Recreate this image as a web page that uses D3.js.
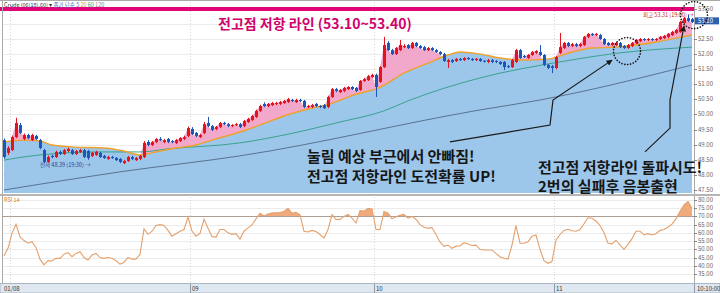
<!DOCTYPE html>
<html>
<head>
<meta charset="utf-8">
<script src="https://cdn.jsdelivr.net/npm/d3@7"></script>
<style>
  body { margin: 0; background: #fff; }
  svg { display: block; font-family: 'Noto Sans CJK KR', 'Noto Sans', sans-serif; }
</style>
</head>
<body>
<svg id="chart" width="720" height="293"></svg>
<script>
// 30-min candles
const open = [
  49.15, 48.73, 48.82, 49.25, 49.65, 49.19, 49.32, 49.15, 49.29, 49.15,
  48.82, 48.43, 48.63, 48.59, 48.76, 48.69, 48.79, 48.82, 48.69, 48.76,
  48.82, 48.79, 48.63, 48.66, 48.73, 48.63, 48.53, 48.59, 48.56, 48.53,
  48.39, 48.46, 48.59, 48.49, 48.53, 48.59, 49.09, 48.99, 49.09, 49.19,
  49.09, 49.19, 49.12, 49.06, 49.12, 49.19, 49.29, 49.52, 49.39, 49.25,
  49.39, 49.72, 49.62, 49.52, 49.59, 49.72, 49.68, 49.62, 49.65, 49.68,
  49.62, 49.75, 49.82, 49.92, 50.12, 50.35, 50.28, 50.31, 50.35, 50.35,
  50.38, 50.41, 50.48, 50.41, 50.48, 50.45, 50.25, 50.25, 50.35, 50.28,
  50.31, 50.25, 50.58, 50.84, 50.74, 50.78, 50.84, 50.91, 50.88, 50.81,
  51.11, 51.14, 51.24, 51.31, 51.08, 51.57, 52.37, 52.13, 52.00, 52.13,
  52.23, 52.30, 52.20, 52.37, 52.27, 52.23, 52.13, 52.20, 52.13, 52.07,
  52.00, 51.74, 51.80, 51.77, 51.84, 51.80, 51.87, 51.84, 51.80, 51.84,
  51.78, 51.74, 51.80, 51.77, 51.74, 51.74, 51.60, 51.57, 51.74, 52.13,
  51.94, 51.87, 51.97, 52.04, 52.07, 51.97, 51.64, 51.60, 51.54, 52.04,
  52.20, 52.37, 52.27, 52.33, 52.27, 52.30, 52.57, 52.67, 52.63, 52.63,
  52.50, 52.37, 52.30, 52.30, 52.37, 52.27, 52.20, 52.27, 52.37, 52.43,
  52.50, 52.47, 52.50, 52.47, 52.50, 52.53, 52.57, 52.63, 52.70, 52.73,
  53.03, 53.19, 53.16
];
const close = [
  48.59, 48.89, 49.25, 49.72, 49.39, 49.32, 49.22, 49.32, 49.19, 48.89,
  48.43, 48.59, 48.59, 48.76, 48.69, 48.82, 48.86, 48.69, 48.79, 48.82,
  48.59, 48.56, 48.73, 48.76, 48.59, 48.56, 48.59, 48.56, 48.49, 48.43,
  48.46, 48.59, 48.53, 48.56, 48.63, 49.06, 48.99, 49.09, 49.19, 49.15,
  49.15, 49.09, 49.09, 49.15, 49.22, 49.25, 49.55, 49.35, 49.29, 49.32,
  49.68, 49.62, 49.49, 49.59, 49.72, 49.68, 49.62, 49.65, 49.68, 49.59,
  49.78, 49.85, 49.95, 50.12, 50.28, 50.28, 50.35, 50.38, 50.38, 50.41,
  50.45, 50.51, 50.45, 50.48, 50.45, 50.25, 50.28, 50.31, 50.28, 50.25,
  50.21, 50.58, 50.84, 50.78, 50.81, 50.88, 50.91, 50.84, 50.78, 51.11,
  51.17, 51.27, 51.31, 50.91, 51.57, 52.30, 52.13, 52.00, 52.20, 52.30,
  52.27, 52.20, 52.37, 52.27, 52.20, 52.13, 52.20, 52.13, 52.07, 52.00,
  51.77, 51.80, 51.74, 51.84, 51.80, 51.87, 51.84, 51.80, 51.84, 51.77,
  51.75, 51.80, 51.74, 51.74, 51.67, 51.57, 51.57, 51.80, 52.13, 51.87,
  51.90, 51.97, 52.07, 52.10, 51.97, 51.64, 51.54, 51.54, 51.90, 52.23,
  52.37, 52.27, 52.33, 52.27, 52.33, 52.57, 52.67, 52.63, 52.67, 52.50,
  52.33, 52.30, 52.37, 52.37, 52.23, 52.20, 52.30, 52.37, 52.47, 52.50,
  52.47, 52.50, 52.47, 52.50, 52.57, 52.60, 52.67, 52.73, 52.80, 53.06,
  53.19, 53.10, 53.06
];
const high = [
  49.20, 48.95, 49.30, 49.89, 49.72, 49.37, 49.36, 49.36, 49.33, 49.19,
  48.86, 48.64, 48.67, 48.80, 48.80, 48.86, 48.90, 48.86, 48.83, 48.86,
  48.86, 48.83, 48.76, 48.80, 48.76, 48.66, 48.63, 48.63, 48.59, 48.56,
  48.50, 48.63, 48.63, 48.59, 48.66, 49.12, 49.15, 49.12, 49.22, 49.25,
  49.19, 49.22, 49.15, 49.19, 49.25, 49.30, 49.60, 49.58, 49.42, 49.36,
  49.75, 49.92, 49.65, 49.62, 49.75, 49.76, 49.72, 49.68, 49.72, 49.72,
  49.82, 49.89, 49.98, 50.16, 50.32, 50.40, 50.38, 50.42, 50.42, 50.45,
  50.48, 50.55, 50.52, 50.52, 50.52, 50.48, 50.32, 50.35, 50.38, 50.31,
  50.35, 50.62, 50.88, 50.88, 50.84, 50.91, 50.94, 50.94, 50.91, 51.14,
  51.21, 51.31, 51.35, 51.35, 51.60, 52.57, 52.43, 52.17, 52.23, 52.47,
  52.33, 52.33, 52.40, 52.40, 52.30, 52.27, 52.23, 52.23, 52.17, 52.10,
  52.04, 51.84, 51.84, 51.87, 51.87, 51.90, 51.90, 51.87, 51.87, 51.87,
  51.80, 51.84, 51.84, 51.80, 51.77, 51.77, 51.64, 51.84, 52.17, 52.17,
  51.97, 52.00, 52.10, 52.13, 52.30, 52.00, 51.67, 51.64, 51.94, 52.70,
  52.40, 52.40, 52.37, 52.37, 52.37, 52.60, 52.70, 52.70, 52.70, 52.67,
  52.53, 52.40, 52.40, 52.40, 52.40, 52.30, 52.33, 52.40, 52.50, 52.53,
  52.53, 52.53, 52.53, 52.53, 52.60, 52.63, 52.70, 52.77, 52.83, 53.10,
  53.23, 53.31, 53.20
];
const low = [
  48.53, 48.66, 48.79, 49.22, 49.35, 49.15, 49.18, 49.12, 49.15, 48.85,
  48.39, 48.40, 48.55, 48.56, 48.66, 48.66, 48.75, 48.66, 48.66, 48.73,
  48.56, 48.50, 48.59, 48.63, 48.56, 48.53, 48.50, 48.53, 48.46, 48.39,
  48.36, 48.43, 48.49, 48.46, 48.49, 48.56, 48.95, 48.95, 49.05, 49.12,
  49.05, 49.05, 49.05, 49.02, 49.09, 49.15, 49.25, 49.32, 49.25, 49.22,
  49.35, 49.58, 49.45, 49.48, 49.55, 49.65, 49.58, 49.58, 49.62, 49.55,
  49.58, 49.72, 49.78, 49.88, 50.08, 50.24, 50.24, 50.28, 50.31, 50.31,
  50.35, 50.38, 50.41, 50.38, 50.41, 50.21, 50.21, 50.21, 50.24, 50.21,
  50.18, 50.21, 50.55, 50.74, 50.71, 50.74, 50.81, 50.81, 50.74, 50.78,
  51.08, 51.11, 51.21, 50.58, 51.05, 51.54, 52.10, 51.97, 51.97, 52.10,
  52.20, 52.17, 52.17, 52.23, 52.17, 52.10, 52.10, 52.10, 52.04, 51.97,
  51.74, 51.54, 51.70, 51.74, 51.77, 51.77, 51.80, 51.77, 51.77, 51.74,
  51.72, 51.70, 51.70, 51.70, 51.64, 51.47, 51.54, 51.54, 51.70, 51.84,
  51.87, 51.84, 51.94, 52.00, 51.94, 51.60, 51.50, 51.37, 51.50, 52.00,
  52.17, 52.23, 52.23, 52.23, 52.23, 52.27, 52.53, 52.60, 52.60, 52.47,
  52.30, 52.27, 52.27, 52.27, 52.20, 52.17, 52.17, 52.23, 52.33, 52.40,
  52.43, 52.43, 52.43, 52.43, 52.47, 52.50, 52.53, 52.60, 52.67, 52.70,
  53.00, 53.06, 53.03
];
const rsi = [
  46, 50.6, 59.7, 65.2, 57.5, 55.3, 53.7, 54.6, 51, 44,
  40.5, 43.1, 42.9, 44.5, 44.5, 47, 48, 45.5, 47.5, 48.5,
  45, 43.5, 46.5, 47.5, 45, 44.5, 45, 44.5, 43, 41,
  42, 45, 44, 44, 47, 62.4, 59.1, 61, 64.5, 65,
  64.5, 61.5, 58, 59.5, 61, 62, 69.5, 61.1, 58, 59.7,
  68.4, 62.8, 57.7, 57.4, 62, 62, 60, 59.1, 59.5, 56.2,
  61, 63, 64.8, 68.5, 71.9, 70.2, 71.5, 72, 72.2, 72.4,
  73, 74.9, 71.9, 72.5, 70.9, 61, 60.5, 61.5, 60.8, 59,
  56.8, 62, 71, 68, 68.2, 70, 71.2, 69, 66, 73.5,
  73.2, 74.9, 74.5, 62, 62, 73, 72, 68.5, 69.8, 70.7,
  71.2, 68.9, 70, 68.3, 65, 63.4, 62.9, 63.2, 59, 54.5,
  51.8, 52.6, 50.6, 51.9, 52, 54, 53.2, 52.3, 52.5, 50,
  49.6, 49.6, 49.6, 47.5, 45.5, 44.5, 44, 52.6, 64.4, 53.7,
  53.7, 54.5, 58, 58.7, 50, 43.1, 41.5, 42.5, 55.7, 59,
  61.5, 62.2, 61.3, 61, 62, 65.5, 69.2, 68.9, 67.2, 64.5,
  60, 53.7, 53.3, 55.5, 52.5, 50, 53, 56.5, 61, 61,
  58.7, 59.5, 58.7, 59.5, 61.5, 62, 63.4, 65.3, 68.5, 73,
  77, 79, 75
];
// moving averages as [candle index, price]
const maShort = [
  [0, 49.09], [5, 49.15], [9, 49.12], [12, 48.99], [18, 48.92], [25, 48.89],
  [30, 48.79], [34, 48.66], [38, 48.76], [43, 48.89], [48, 48.99], [53, 49.19],
  [59, 49.42], [65, 49.70], [70, 49.95], [76, 50.18], [81, 50.33], [88, 50.67],
  [94, 50.90], [100, 51.37], [106, 51.70], [111, 51.97], [114, 52.07], [119, 52.00],
  [124, 51.87], [130, 51.80], [136, 51.84], [142, 52.07], [147, 52.20], [153, 52.23],
  [158, 52.30], [163, 52.40], [168, 52.53], [172, 52.63]
];
const maMid = [
  [0, 48.49], [9, 48.66], [24, 48.76], [34, 48.76], [41, 48.86], [59, 49.06],
  [70, 49.32], [84, 49.75], [95, 50.12], [101, 50.45], [119, 51.21], [139, 51.74],
  [154, 52.04], [172, 52.23]
];
const maLong = [
  [0, 47.50], [29, 48.10], [59, 48.63], [119, 50.15], [134, 50.48], [172, 51.64]
];
const dayStart = [2, 47, 93, 138];
const dayLabels = ['01/08', '09', '10', '11'];
const priceTicks = [47.5, 48, 48.5, 49, 49.5, 50, 50.5, 51, 51.5, 52, 52.5, 53, 53.5];
const rsiTicks = [35, 40, 45, 50, 55, 60, 65, 70, 75, 80];
const rsiLevel = 70;
const lastPrice = 53.10;
const bandPrice = 53.49;

const svg = d3.select('#chart');
const plot = { left: 3, right: 694, top: 2, bottom: 193 };
const rp = { top: 197, bottom: 283 };

const x = d3.scaleLinear().domain([0, close.length - 1]).range([4, 692]);
const y = d3.scaleLinear().domain([47.433, 53.791]).range([192, 0]);
const yr = d3.scaleLinear().domain([29.5, 81.8]).range([rp.bottom, rp.top]);
const dayX = i => x(i) - 2;

const defs = svg.append('defs');
defs.append('clipPath').attr('id', 'clipMain')
  .append('rect')
    .attr('x', plot.left).attr('y', plot.top)
    .attr('width', plot.right - plot.left).attr('height', plot.bottom - plot.top);
defs.append('clipPath').attr('id', 'clipRsi')
  .append('rect')
    .attr('x', plot.left).attr('y', rp.top)
    .attr('width', plot.right - plot.left).attr('height', yr(rsiLevel) - rp.top);
defs.append('marker')
    .attr('id', 'arrow')
    .attr('viewBox', '0 0 10 10')
    .attr('refX', 9).attr('refY', 5)
    .attr('markerWidth', 6).attr('markerHeight', 6)
    .attr('markerUnits', 'userSpaceOnUse')
    .attr('orient', 'auto')
  .append('path')
    .attr('d', 'M0,0 L10,5 L0,10 z')
    .attr('fill', '#1a1a1a');

svg.append('rect').attr('width', 720).attr('height', 293).attr('fill', '#fff');

// ---- main panel
const main = svg.append('g').attr('clip-path', 'url(#clipMain)');

main.selectAll('.hgrid')
    .data(priceTicks)
  .enter().append('line')
    .attr('x1', plot.left).attr('x2', plot.right)
    .attr('y1', d => Math.round(y(d)) + 0.5).attr('y2', d => Math.round(y(d)) + 0.5)
    .attr('stroke', '#ebebeb');

main.selectAll('.vgrid')
    .data(dayStart)
  .enter().append('line')
    .attr('x1', d => dayX(d) + 0.5).attr('x2', d => dayX(d) + 0.5)
    .attr('y1', plot.top).attr('y2', plot.bottom)
    .attr('stroke', '#d4d4d4')
    .attr('stroke-dasharray', '1,2');

const idx = d3.range(close.length);

main.append('path')
    .datum(idx)
    .attr('fill', '#f2a8ca')
    .attr('d', d3.area().x(i => x(i)).y0(plot.bottom).y1(i => y(close[i])));

main.append('path')
    .datum(maShort)
    .attr('fill', '#9cc6ea')
    .attr('d', d3.area().curve(d3.curveMonotoneX)
      .x(d => x(d[0])).y0(plot.bottom).y1(d => y(d[1])));

const maLine = d3.line().curve(d3.curveMonotoneX).x(d => x(d[0])).y(d => y(d[1]));
main.append('path').datum(maLong)
    .attr('fill', 'none').attr('stroke', '#5b7391').attr('stroke-width', 1)
    .attr('d', maLine);
main.append('path').datum(maMid)
    .attr('fill', 'none').attr('stroke', '#3aa38e').attr('stroke-width', 1)
    .attr('d', maLine);
main.append('path').datum(maShort)
    .attr('fill', 'none').attr('stroke', '#f0a12a').attr('stroke-width', 1.4)
    .attr('d', maLine);

const candleColor = i => (close[i] >= open[i] ? '#e3141e' : '#1d56b9');
const candles = main.selectAll('.candle')
    .data(idx)
  .enter().append('g')
    .attr('class', 'candle');
candles.append('line')
    .attr('x1', i => x(i) + 0.5).attr('x2', i => x(i) + 0.5)
    .attr('y1', i => y(high[i])).attr('y2', i => y(low[i]))
    .attr('stroke', candleColor);
candles.append('rect')
    .attr('x', i => x(i) - 1)
    .attr('width', 3)
    .attr('y', i => y(Math.max(open[i], close[i])))
    .attr('height', i => Math.max(1, Math.abs(y(open[i]) - y(close[i]))))
    .attr('fill', candleColor);

// small markers
svg.append('text')
    .attr('x', 40).attr('y', 167)
    .attr('font-size', 5.5).attr('fill', '#2b3f8c')
    .text('전저 48.39 (19:30) →');
svg.append('text')
    .attr('x', 643).attr('y', 16.5)
    .attr('font-size', 5.5).attr('fill', '#c41f2a')
    .text('최고 53.31 (19:00) →');

// resistance band
svg.append('line')
    .attr('x1', 0).attr('x2', 695)
    .attr('y1', y(bandPrice)).attr('y2', y(bandPrice))
    .attr('stroke', '#e0067a').attr('stroke-width', 4);

// ---- right axis
svg.append('line')
    .attr('x1', plot.right + 0.5).attr('x2', plot.right + 0.5)
    .attr('y1', 0).attr('y2', 284)
    .attr('stroke', '#a9a9a9');
// the last-price box hides the tick it sits on
const shownTicks = priceTicks.filter(d => Math.abs(y(d) - y(lastPrice)) > 6);
const pAxis = svg.selectAll('.ptick')
    .data(shownTicks)
  .enter().append('g');
pAxis.append('line')
    .attr('x1', plot.right).attr('x2', plot.right + 3)
    .attr('y1', d => Math.round(y(d)) + 0.5).attr('y2', d => Math.round(y(d)) + 0.5)
    .attr('stroke', '#888');
pAxis.append('text')
    .attr('x', plot.right + 4).attr('y', d => y(d) + 2)
    .attr('font-size', 6).attr('fill', '#666')
    .text(d => d.toFixed(2));

svg.append('rect')
    .attr('x', plot.right + 1).attr('y', y(lastPrice) - 3.5)
    .attr('width', 24).attr('height', 7)
    .attr('fill', '#2d5fb3');
svg.append('text')
    .attr('x', plot.right + 4).attr('y', y(lastPrice) + 2)
    .attr('font-size', 6).attr('fill', '#fff')
    .text(lastPrice.toFixed(2));

// ---- RSI panel
svg.append('line')
    .attr('x1', 0).attr('x2', 720).attr('y1', 195).attr('y2', 195)
    .attr('stroke', '#b5b5b5').attr('stroke-width', 2);

svg.selectAll('.rgrid')
    .data(rsiTicks)
  .enter().append('line')
    .attr('x1', plot.left).attr('x2', plot.right)
    .attr('y1', d => Math.round(yr(d)) + 0.5).attr('y2', d => Math.round(yr(d)) + 0.5)
    .attr('stroke', d => (d === rsiLevel ? '#9a9a9a' : '#ebebeb'));

svg.selectAll('.rvgrid')
    .data(dayStart)
  .enter().append('line')
    .attr('x1', d => dayX(d) + 0.5).attr('x2', d => dayX(d) + 0.5)
    .attr('y1', rp.top).attr('y2', rp.bottom)
    .attr('stroke', '#d4d4d4')
    .attr('stroke-dasharray', '1,2');

svg.append('path')
    .datum(rsi)
    .attr('clip-path', 'url(#clipRsi)')
    .attr('fill', '#f0ab7c')
    .attr('d', d3.area().x((d, i) => x(i)).y0(yr(rsiLevel)).y1(d => yr(d)));
svg.append('path')
    .datum(rsi)
    .attr('fill', 'none')
    .attr('stroke', '#e4a06c')
    .attr('stroke-width', 1.1)
    .attr('d', d3.line().x((d, i) => x(i)).y(d => yr(d)));

svg.append('text')
    .attr('x', 4).attr('y', 202)
    .attr('font-size', 5.5).attr('fill', '#d9822b')
    .text('RSI 14');

const rAxis = svg.selectAll('.rtick')
    .data(rsiTicks)
  .enter().append('g');
rAxis.append('line')
    .attr('x1', plot.right).attr('x2', plot.right + 3)
    .attr('y1', d => Math.round(yr(d)) + 0.5).attr('y2', d => Math.round(yr(d)) + 0.5)
    .attr('stroke', '#888');
rAxis.append('text')
    .attr('x', plot.right + 4).attr('y', d => yr(d) + 2)
    .attr('font-size', 6).attr('fill', '#666')
    .text(d => d.toFixed(2));

// ---- time strip
svg.append('rect')
    .attr('x', 0).attr('y', 283.5).attr('width', 720).attr('height', 9.5)
    .attr('fill', '#dfe7f0').attr('stroke', '#aab6c4');
svg.selectAll('.dlabel')
    .data(dayStart)
  .enter().append('text')
    .attr('x', (d, i) => (i === 0 ? 4 : dayX(d) + 2))
    .attr('y', 291)
    .attr('font-size', 6).attr('fill', '#333')
    .text((d, i) => dayLabels[i]);
svg.selectAll('.dtick')
    .data(dayStart.slice(1))
  .enter().append('line')
    .attr('x1', d => dayX(d) + 0.5).attr('x2', d => dayX(d) + 0.5)
    .attr('y1', 284).attr('y2', 293)
    .attr('stroke', '#8f9aa8');
svg.append('line')
    .attr('x1', plot.right + 0.5).attr('x2', plot.right + 0.5)
    .attr('y1', 284).attr('y2', 293).attr('stroke', '#8f9aa8');
svg.append('text')
    .attr('x', plot.right + 3).attr('y', 291)
    .attr('font-size', 6).attr('fill', '#333')
    .text('10:10:00');

// frame
svg.append('line').attr('x1', 2.5).attr('x2', 2.5).attr('y1', 0).attr('y2', 284)
    .attr('stroke', '#a9a9a9');
svg.append('line').attr('x1', 0).attr('x2', 720).attr('y1', 0.5).attr('y2', 0.5)
    .attr('stroke', '#a9a9a9');

// header
const head = svg.append('text').attr('x', 4).attr('y', 6.5).attr('font-size', 5.5);
head.append('tspan').attr('fill', '#333').text('Crude (06(18).60) ▾ ');
head.append('tspan').attr('fill', '#3d6fc0').text('종가 단순 5 ');
head.append('tspan').attr('fill', '#d9a21b').text('20 ');
head.append('tspan').attr('fill', '#3aa36a').text('60 ');
head.append('tspan').attr('fill', '#888').text('120');

// ---- annotations
const pt = d => [x(d[0]), y(d[1])];
const arrows = [
  [[111.5, 49.09], [136.5, 49.65], [137.25, 50.48], [152, 51.80]],
  [[160.25, 48.76], [166.5, 49.55], [166.5, 50.48], [170, 52.93]]
];
svg.selectAll('.arrow')
    .data(arrows)
  .enter().append('path')
    .attr('fill', 'none')
    .attr('stroke', '#1a1a1a')
    .attr('stroke-width', 1.2)
    .attr('marker-end', 'url(#arrow)')
    .attr('d', d => d3.line()(d.map(pt)));

const rings = [[155.75, 52.10], [172.5, 53.29]];
svg.selectAll('.ring')
    .data(rings)
  .enter().append('circle')
    .attr('cx', d => x(d[0])).attr('cy', d => y(d[1]))
    .attr('r', 13.5)
    .attr('fill', 'none')
    .attr('stroke', '#111')
    .attr('stroke-width', 1.6)
    .attr('stroke-linecap', 'round')
    .attr('stroke-dasharray', '0.1,2.8');

svg.append('text')
    .attr('x', 218).attr('y', 29)
    .attr('font-size', 14).attr('font-weight', 'bold').attr('fill', '#d1026c')
    .text('전고점 저항 라인 (53.10~53.40)');

const notes = [
  { x: 307, y: 162, t: '눌림 예상 부근에서 안빠짐!' },
  { x: 307, y: 182, t: '전고점 저항라인 도전확률 UP!' },
  { x: 538, y: 173, t: '전고점 저항라인 돌파시도!' },
  { x: 538, y: 192, t: '2번의 실패후 음봉출현' }
];
svg.selectAll('.note')
    .data(notes)
  .enter().append('text')
    .attr('x', d => d.x).attr('y', d => d.y)
    .attr('font-size', 15).attr('font-weight', 'bold').attr('fill', '#161616')
    .text(d => d.t);
</script>
</body>
</html>
